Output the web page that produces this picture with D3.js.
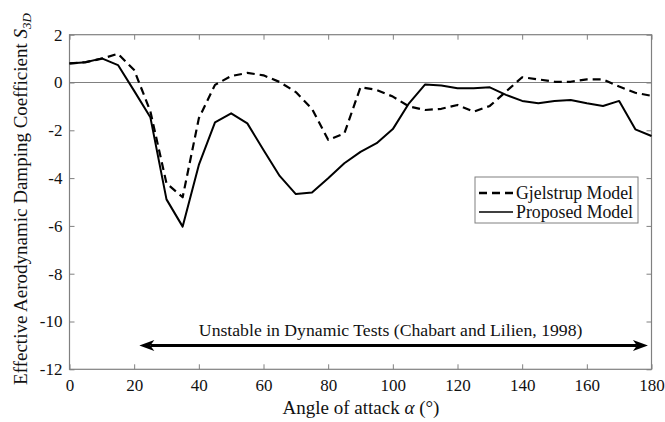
<!DOCTYPE html>
<html>
<head>
<meta charset="utf-8">
<script src="https://cdn.jsdelivr.net/npm/d3@7"></script>
<style>
  html, body { margin: 0; padding: 0; background: #fff; }
  svg { display: block; font-family: "Liberation Serif", "Times New Roman", serif; }
</style>
</head>
<body>
<svg id="chart" width="665" height="422"></svg>
<script>
// Angle of attack (degrees)
const alphaProposed = [0, 5, 10, 15, 20, 25, 30, 35, 40, 45, 50, 55, 60, 65, 70, 75, 80, 85, 90, 95, 100, 105, 110, 115, 120, 125, 130, 135, 140, 145, 150, 155, 160, 165, 170, 175, 180];
const proposedModel = [0.80, 0.85, 1.01, 0.73, -0.35, -1.45, -4.89, -6.03, -3.45, -1.67, -1.29, -1.71, -2.82, -3.91, -4.67, -4.60, -4.01, -3.38, -2.90, -2.54, -1.95, -0.87, -0.08, -0.13, -0.24, -0.24, -0.20, -0.52, -0.77, -0.87, -0.77, -0.73, -0.87, -0.98, -0.77, -1.96, -2.24];

const alphaGjelstrup = [0, 5, 10, 15, 20, 25, 30, 35, 40, 45, 50, 55, 60, 65, 70, 75, 80, 85, 90, 95, 100, 105, 110, 115, 120, 125, 130, 135, 140, 145, 150, 155, 160, 165, 170, 175, 180];
const gjelstrupModel = [0.80, 0.85, 1.00, 1.20, 0.52, -1.20, -4.22, -4.80, -1.50, -0.10, 0.27, 0.40, 0.30, 0.02, -0.40, -1.10, -2.40, -2.13, -0.20, -0.31, -0.59, -1.00, -1.15, -1.10, -0.94, -1.22, -0.98, -0.38, 0.22, 0.13, 0.03, 0.03, 0.13, 0.13, -0.17, -0.43, -0.56];

const xTicks = [0, 20, 40, 60, 80, 100, 120, 140, 160, 180];
const yTicks = [2, 0, -2, -4, -6, -8, -10, -12];

// Unstable range marked by the double arrow
const unstableRange = [21.6, 178.9];
const unstableLevel = -11;
const unstableLabel = "Unstable in Dynamic Tests (Chabart and Lilien, 1998)";

const legendNames = ["Gjelstrup Model", "Proposed Model"];

const svg = d3.select("#chart");
const plotLeft = 69.5, plotRight = 651.5, plotTop = 34.7, plotBottom = 369.3;

const x = d3.scaleLinear().domain([0, 180]).range([plotLeft, plotRight]);
const y = d3.scaleLinear().domain([-12, 2]).range([plotBottom, plotTop]);

const axisColor = "#808080";
const textColor = "#111";
const tickLen = 5;

// Zero reference line
svg.append("line")
  .attr("x1", plotLeft).attr("x2", plotRight)
  .attr("y1", y(0)).attr("y2", y(0))
  .attr("stroke", axisColor).attr("stroke-width", 1);

// Axes with inward ticks on all four sides
const axisStyle = g => {
  g.select(".domain").remove();
  g.selectAll(".tick line").attr("stroke", axisColor).attr("stroke-width", 1);
  g.selectAll(".tick text").attr("fill", textColor).attr("font-size", 17)
    .attr("font-family", "Liberation Serif, Times New Roman, serif");
};

svg.append("g").attr("transform", `translate(0,${plotBottom})`)
  .call(d3.axisBottom(x).tickValues(xTicks).tickSizeInner(-tickLen).tickSizeOuter(0).tickPadding(10))
  .call(axisStyle);
svg.append("g").attr("transform", `translate(0,${plotTop})`)
  .call(d3.axisTop(x).tickValues(xTicks).tickSizeInner(-tickLen).tickSizeOuter(0).tickFormat(""))
  .call(axisStyle);
svg.append("g").attr("transform", `translate(${plotLeft},0)`)
  .call(d3.axisLeft(y).tickValues(yTicks).tickSizeInner(-tickLen).tickSizeOuter(0).tickPadding(7)
    .tickFormat(d => d < 0 ? "-" + Math.abs(d) : d))
  .call(axisStyle);
svg.append("g").attr("transform", `translate(${plotRight},0)`)
  .call(d3.axisRight(y).tickValues(yTicks).tickSizeInner(-tickLen).tickSizeOuter(0).tickFormat(""))
  .call(axisStyle);

// Plot frame
svg.append("rect")
  .attr("x", plotLeft).attr("y", plotTop)
  .attr("width", plotRight - plotLeft).attr("height", plotBottom - plotTop)
  .attr("fill", "none").attr("stroke", axisColor).attr("stroke-width", 1.2);

// Series
const line = d3.line().x(d => x(d[0])).y(d => y(d[1]));
svg.append("path")
  .datum(d3.zip(alphaGjelstrup, gjelstrupModel))
  .attr("d", line).attr("fill", "none")
  .attr("stroke", "#000").attr("stroke-width", 2.2)
  .attr("stroke-dasharray", "8,5").attr("stroke-linejoin", "round");
svg.append("path")
  .datum(d3.zip(alphaProposed, proposedModel))
  .attr("d", line).attr("fill", "none")
  .attr("stroke", "#000").attr("stroke-width", 2).attr("stroke-linejoin", "round");

// Double-headed arrow for the unstable range
const ax0 = x(unstableRange[0]), ax1 = x(unstableRange[1]), ay = y(unstableLevel);
const headLen = 15, headHalf = 5.5, headBack = 4;
svg.append("line")
  .attr("x1", ax0 + headLen - headBack).attr("x2", ax1 - headLen + headBack)
  .attr("y1", ay).attr("y2", ay)
  .attr("stroke", "#000").attr("stroke-width", 3);
const head = (tip, dir) => {
  const b = tip + dir * headLen;
  return `M${tip},${ay} L${b},${ay - headHalf} L${b - dir * headBack},${ay} L${b},${ay + headHalf} Z`;
};
svg.append("path").attr("d", head(ax0, 1)).attr("fill", "#000");
svg.append("path").attr("d", head(ax1, -1)).attr("fill", "#000");

svg.append("text")
  .attr("x", (ax0 + ax1) / 2 - 3).attr("y", ay - 9)
  .attr("text-anchor", "middle").attr("font-size", 17.7).attr("fill", textColor)
  .text(unstableLabel);

// Legend
const lg = svg.append("g");
lg.append("rect")
  .attr("x", 475).attr("y", 177).attr("width", 163).attr("height", 46)
  .attr("fill", "#fff").attr("stroke", axisColor).attr("stroke-width", 1);
const rows = [193, 212];
legendNames.forEach((name, i) => {
  lg.append("line")
    .attr("x1", 479).attr("x2", 513).attr("y1", rows[i]).attr("y2", rows[i])
    .attr("stroke", "#000").attr("stroke-width", i === 0 ? 2.4 : 1.6)
    .attr("stroke-dasharray", i === 0 ? "8,5" : null);
  lg.append("text")
    .attr("x", 516).attr("y", rows[i] + 6)
    .attr("font-size", 17.8).attr("fill", textColor)
    .text(name);
});

// Axis titles
const xt = svg.append("text")
  .attr("x", 361).attr("y", 414)
  .attr("text-anchor", "middle").attr("font-size", 19).attr("fill", textColor);
xt.append("tspan").text("Angle of attack ");
xt.append("tspan").attr("font-style", "italic").text("α");
xt.append("tspan").text(" (°)");

const yt = svg.append("text")
  .attr("transform", `translate(27,199) rotate(-90)`)
  .attr("text-anchor", "middle").attr("font-size", 19).attr("fill", textColor);
yt.append("tspan").text("Effective Aerodynamic Damping Coefficient ");
yt.append("tspan").attr("font-style", "italic").text("S");
yt.append("tspan").attr("font-style", "italic").attr("font-size", 13).attr("dy", 4).text("3D");
</script>
</body>
</html>
